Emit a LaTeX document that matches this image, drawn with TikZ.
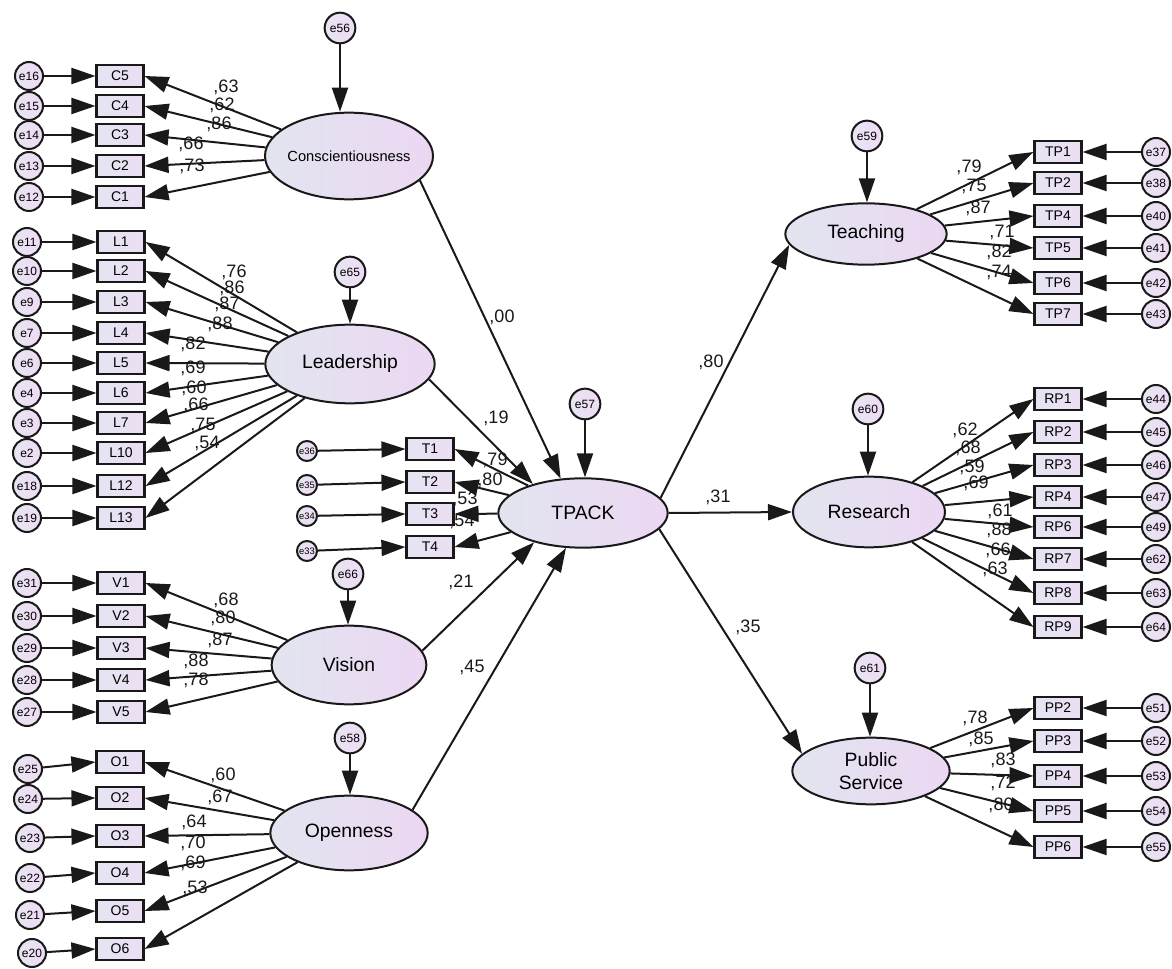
\documentclass[tikz,border=0pt]{standalone}
\usepackage{fontspec}
\setmainfont{Liberation Sans}
\usepackage{tikz}
\usetikzlibrary{shapes.geometric,arrows.meta}
\definecolor{latfillA}{RGB}{226,229,240}
\definecolor{latfillB}{RGB}{236,215,242}
\definecolor{obsfillA}{RGB}{229,229,242}
\definecolor{obsfillB}{RGB}{236,222,243}
\definecolor{errfillA}{RGB}{232,228,242}
\definecolor{errfillB}{RGB}{238,220,244}
\definecolor{semline}{RGB}{25,25,25}
\tikzset{
  latent/.style={
    ellipse, draw=semline, line width=1.5pt,
    left color=latfillA, right color=latfillB,
    inner sep=0pt, align=center,
    font=\fontsize{14.5}{17.5}\selectfont
  },
  observed/.style={
    rectangle, draw=semline, line width=1.8pt,
    left color=obsfillA, right color=obsfillB,
    minimum width=35pt, minimum height=16.5pt, inner sep=0pt,
    font=\fontsize{10.5}{12}\selectfont
  },
  errvar/.style={
    circle, draw=semline, line width=1.5pt,
    left color=errfillA, right color=errfillB,
    minimum size=21pt, inner sep=0pt,
    font=\fontsize{9}{10}\selectfont
  },
  errsmall/.style={errvar, minimum size=15pt, font=\fontsize{7}{8}\selectfont},
  disturb/.style={errvar, minimum size=23pt},
  semarrow/.style={-{Triangle[length=18pt,width=12pt]}, line width=1.5pt, draw=semline},
  coef/.style={font=\fontsize{13.5}{15}\selectfont, inner sep=0pt, text=semline}
}

\begin{document}
\begin{tikzpicture}[x=0.75pt, y=-0.75pt]
\useasboundingbox (0,0) rectangle (1172,969);

% ---- latent variables ----
\node[latent, minimum width=126pt, minimum height=65pt, inner xsep=-4pt,
      font=\fontsize{11}{13}\selectfont] (Con) at (349,156) {Conscientiousness};
\node[latent, minimum width=127pt, minimum height=59pt] (Lead) at (350,364) {Leadership};
\node[latent, minimum width=116pt, minimum height=59pt] (Vis) at (349,665) {Vision};
\node[latent, minimum width=118pt, minimum height=56pt] (Open) at (349,833) {Openness};
\node[latent, minimum width=127pt, minimum height=52pt] (TPACK) at (583,513) {TPACK};
\node[latent, minimum width=121pt, minimum height=46pt] (Teach) at (866,234) {Teaching};
\node[latent, minimum width=114pt, minimum height=53pt] (Res) at (869,512) {Research};
\node[latent, minimum width=118pt, minimum height=50pt] (PubS) at (871,771) {Public\\Service};

% ---- disturbances ----
\node[disturb] (e56) at (340,28) {e56};
\node[disturb] (e65) at (350,272) {e65};
\node[disturb] (e66) at (348,574) {e66};
\node[disturb] (e58) at (350,738) {e58};
\node[disturb] (e57) at (585,404) {e57};
\node[disturb] (e59) at (867,136) {e59};
\node[disturb] (e60) at (868,409) {e60};
\node[disturb] (e61) at (870,668) {e61};
\draw[semarrow] (e56) -- (e56 |- Con.north);
\draw[semarrow] (e65) -- (e65 |- Lead.north);
\draw[semarrow] (e66) -- (e66 |- Vis.north);
\draw[semarrow] (e58) -- (e58 |- Open.north);
\draw[semarrow] (e57) -- (e57 |- TPACK.north);
\draw[semarrow] (e59) -- (e59 |- Teach.north);
\draw[semarrow] (e60) -- (e60 |- Res.north);
\draw[semarrow] (e61) -- (e61 |- PubS.north);

% ---- indicators, left side ----
\foreach \ind/\err/\y in {C5/e16/76, C4/e15/106, C3/e14/135, C2/e13/166, C1/e12/197} {
  \node[observed] (\ind) at (120,\y) {\ind};
  \node[errvar] (\err) at (29,\y) {\err};
  \draw[semarrow] (\err) -- (\ind.west);
  \draw[semarrow] (Con) -- (\ind.east);
}
\foreach \ind/\err/\y in {L1/e11/242, L2/e10/271, L3/e9/302, L4/e7/333, L5/e6/363,
                         L6/e4/393, L7/e3/423, L10/e2/453, L12/e18/486, L13/e19/518} {
  \node[observed] (\ind) at (121,\y) {\ind};
  \node[errvar] (\err) at (27,\y) {\err};
  \draw[semarrow] (\err) -- (\ind.west);
  \draw[semarrow] (Lead) -- (\ind.east);
}
\foreach \ind/\err/\y in {V1/e31/583, V2/e30/616, V3/e29/648, V4/e28/680, V5/e27/712} {
  \node[observed] (\ind) at (121,\y) {\ind};
  \node[errvar] (\err) at (27,\y) {\err};
  \draw[semarrow] (\err) -- (\ind.west);
  \draw[semarrow] (Vis) -- (\ind.east);
}
\foreach \ind/\err/\y/\ex/\ey in {O1/e25/762/28/769, O2/e24/798/28/799, O3/e23/836/30/838,
                                 O4/e22/873/30/878, O5/e21/911/30/915, O6/e20/949/32/953} {
  \node[observed] (\ind) at (120,\y) {\ind};
  \node[errvar] (\err) at (\ex,\ey) {\err};
  \draw[semarrow] (\err) -- (\ind.west);
  \draw[semarrow] (Open) -- (\ind.east);
}

% ---- TPACK indicators ----
\foreach \ind/\err/\y/\ey in {T1/e36/449/451, T2/e35/482/485, T3/e34/514/516, T4/e33/547/551} {
  \node[observed] (\ind) at (430,\y) {\ind};
  \node[errsmall] (\err) at (307,\ey) {\err};
  \draw[semarrow] (\err) -- (\ind.west);
  \draw[semarrow] (TPACK) -- (\ind.east);
}

% ---- indicators, right side ----
\foreach \ind/\err/\y in {TP1/e37/152, TP2/e38/183, TP4/e40/216, TP5/e41/248, TP6/e42/283, TP7/e43/314} {
  \node[observed] (\ind) at (1058,\y) {\ind};
  \node[errvar] (\err) at (1156,\y) {\err};
  \draw[semarrow] (\err) -- (\ind.east);
  \draw[semarrow] (Teach) -- (\ind.west);
}
\foreach \ind/\err/\y in {RP1/e44/399, RP2/e45/432, RP3/e46/465, RP4/e47/497,
                          RP6/e49/527, RP7/e62/559, RP8/e63/593, RP9/e64/627} {
  \node[observed] (\ind) at (1058,\y) {\ind};
  \node[errvar] (\err) at (1156,\y) {\err};
  \draw[semarrow] (\err) -- (\ind.east);
  \draw[semarrow] (Res) -- (\ind.west);
}
\foreach \ind/\err/\y in {PP2/e51/708, PP3/e52/741, PP4/e53/776, PP5/e54/811, PP6/e55/847} {
  \node[observed] (\ind) at (1058,\y) {\ind};
  \node[errvar] (\err) at (1156,\y) {\err};
  \draw[semarrow] (\err) -- (\ind.east);
  \draw[semarrow] (PubS) -- (\ind.west);
}

% ---- structural paths ----
\draw[semarrow] (Con.-19) -- (TPACK.123);
\draw[semarrow] (Lead.-11) -- (TPACK.150);
\draw[semarrow] (Vis.11) -- (TPACK.211);
\draw[semarrow] (Open.20) -- (TPACK.244);
\draw[semarrow] (TPACK.11) -- (Teach.188);
\draw[semarrow] (TPACK.east) -- (Res.west);
\draw[semarrow] (TPACK.-12) -- (PubS.166);

% ---- standardized estimates ----
\foreach \v/\x/\y [count=\k] in {
    63/226/87, 62/222/105, 86/219/124, 66/191/144, 73/192/166,
    76/234/272, 86/232/288, 87/227/304, 88/220/324, 82/193/344,
    69/193/368, 60/194/388, 66/196/405, 75/203/425, 54/207/443,
    68/226/600, 80/223/618, 87/220/640, 88/196/661, 78/196/680,
    60/223/775, 67/220/797, 64/194/822, 70/193/843, 69/193/863, 53/195/888,
    79/495/460, 80/490/480, 53/465/499, 54/462/521,
    00/502/317, 19/496/418, 21/461/582, 45/472/667,
    80/711/362, 31/718/497, 35/748/627,
    79/969/167, 75/974/186, 87/978/208, 71/1002/232, 82/999/252, 74/999/272,
    62/965/430, 68/968/448, 59/972/467, 69/976/483,
    61/1000/511, 88/999/530, 66/998/550, 63/995/569,
    78/975/718, 85/981/739, 83/1003/760, 72/1003/783, 80/1001/805}
  \node[coef] (w\k) at (\x,\y) {,\v};

\end{tikzpicture}
\end{document}
